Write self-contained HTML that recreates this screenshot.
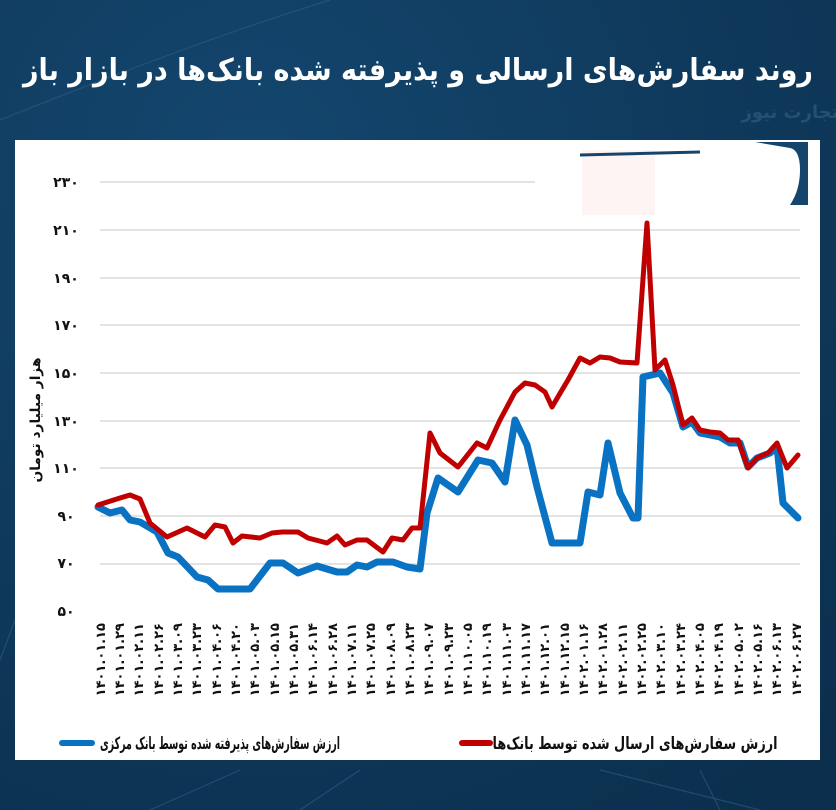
<!DOCTYPE html>
<html><head><meta charset="utf-8"><style>
html,body{margin:0;padding:0;width:836px;height:810px;overflow:hidden;background:#0d3657;}
svg{display:block}
</style></head><body>
<svg width="836" height="810" viewBox="0 0 836 810" xmlns="http://www.w3.org/2000/svg">
<defs>
<radialGradient id="bg" cx="0.3" cy="0.2" r="1"><stop offset="0" stop-color="#14466e"/><stop offset="1" stop-color="#0b2f4d"/></radialGradient>
</defs>
<rect width="836" height="810" fill="url(#bg)"/>
<g stroke="#2f5d82" stroke-width="1.2" fill="none" opacity="0.6">
<path d="M0 120 Q200 40 330 0"/><path d="M150 810 L240 770"/><path d="M360 770 L300 810"/><path d="M600 770 L760 810"/><path d="M700 770 L720 810"/><path d="M0 660 L15 620"/>
</g>
<text x="418" y="80" text-anchor="middle" textLength="790" lengthAdjust="spacingAndGlyphs" font-family="'DejaVu Sans',sans-serif" font-weight="bold" font-size="30" fill="#fff">روند سفارش‌های ارسالی و پذیرفته شده بانک‌ها در بازار باز</text>
<text x="790" y="118" text-anchor="middle" font-family="'DejaVu Sans',sans-serif" font-weight="bold" font-size="18" fill="#2c5b80" opacity="0.7">تجارت نیوز</text>
<rect x="15" y="140" width="805" height="620" fill="#fff"/>
<rect x="582" y="150" width="73" height="65" fill="#fff4f4"/>
<path d="M580 155 L700 152" stroke="#15456b" stroke-width="3"/>
<path d="M755 142 L808 142 L808 205 L790 205 Q800 190 800 170 Q800 150 790 148 Z" fill="#15456b"/>
<g stroke="#e3e3e3" stroke-width="2">
<line x1="100" y1="182" x2="535" y2="182"/>
<line x1="100" y1="230" x2="800" y2="230"/>
<line x1="100" y1="278" x2="800" y2="278"/>
<line x1="100" y1="325" x2="800" y2="325"/>
<line x1="100" y1="373" x2="800" y2="373"/>
<line x1="100" y1="421" x2="800" y2="421"/>
<line x1="100" y1="468" x2="800" y2="468"/>
<line x1="100" y1="516" x2="800" y2="516"/>
<line x1="100" y1="564" x2="800" y2="564"/>
</g>
<g font-family="'DejaVu Sans',sans-serif" font-weight="bold" font-size="14" fill="#111" text-anchor="middle">
<text x="66" y="187">۲۳۰</text><text x="66" y="235">۲۱۰</text><text x="66" y="283">۱۹۰</text><text x="66" y="330">۱۷۰</text><text x="66" y="378">۱۵۰</text><text x="66" y="426">۱۳۰</text><text x="66" y="473">۱۱۰</text><text x="66" y="521">۹۰</text><text x="66" y="568">۷۰</text><text x="66" y="616">۵۰</text>
</g>
<text transform="translate(40,420) rotate(-90)" text-anchor="middle" textLength="125" lengthAdjust="spacingAndGlyphs" font-family="'DejaVu Sans',sans-serif" font-weight="bold" font-size="14" fill="#111">هزار میلیارد تومان</text>
<polyline fill="none" stroke="#0a72c2" stroke-width="7" stroke-linejoin="round" stroke-linecap="round" points="98,507 110,513 122,510 130,520 140,522 157,532 168,553 178,557 197,577 208,580 218,589 250,589 270,563 283,563 298,573 317,566 337,572 347,572 357,565 367,567 377,562 393,562 407,567 420,569 427,513 438,478 458,492 478,460 492,463 505,482 515,420 527,445 537,487 552,543 580,543 588,492 600,495 608,443 620,493 633,518 638,518 643,377 660,373 673,393 683,427 692,422 700,433 710,435 720,437 730,443 740,443 748,467 757,458 770,453 777,447 783,503 798,518"/>
<polyline fill="none" stroke="#c00000" stroke-width="5" stroke-linejoin="round" stroke-linecap="round" points="98,505 120,498 130,495 140,499 150,523 167,537 187,528 205,537 215,525 225,527 233,543 242,536 260,538 272,533 282,532 298,532 308,538 327,543 337,536 345,545 357,540 367,540 383,552 392,538 403,540 412,528 420,528 430,433 440,453 458,467 477,443 487,448 500,420 515,392 525,383 535,385 545,392 552,407 562,390 568,380 580,358 590,363 600,357 610,358 620,362 637,363 647,223 655,370 665,360 673,385 683,425 692,418 700,430 710,432 720,433 728,440 738,440 748,468 757,458 768,453 777,443 787,468 798,455"/>
<line x1="62" y1="743" x2="92" y2="743" stroke="#0a72c2" stroke-width="6" stroke-linecap="round"/>
<text x="220" y="749" text-anchor="middle" textLength="240" lengthAdjust="spacingAndGlyphs" font-family="'DejaVu Sans',sans-serif" font-weight="bold" font-size="17" fill="#111">ارزش سفارش‌های پذیرفته شده توسط بانک مرکزی</text>
<line x1="462" y1="743" x2="490" y2="743" stroke="#c00000" stroke-width="6" stroke-linecap="round"/>
<text x="635" y="749" text-anchor="middle" textLength="285" lengthAdjust="spacingAndGlyphs" font-family="'DejaVu Sans',sans-serif" font-weight="bold" font-size="17" fill="#111">ارزش سفارش‌های ارسال شده توسط بانک‌ها</text>
<g font-family="'DejaVu Sans',sans-serif" font-weight="bold" font-size="13" fill="#111" text-anchor="end">
<text transform="translate(105,623) rotate(-90)">۱۴۰۱.۰۱.۱۵</text>
<text transform="translate(124,623) rotate(-90)">۱۴۰۱.۰۱.۲۹</text>
<text transform="translate(143,623) rotate(-90)">۱۴۰۱.۰۲.۱۱</text>
<text transform="translate(163,623) rotate(-90)">۱۴۰۱.۰۲.۲۶</text>
<text transform="translate(182,623) rotate(-90)">۱۴۰۱.۰۳.۰۹</text>
<text transform="translate(201,623) rotate(-90)">۱۴۰۱.۰۳.۲۳</text>
<text transform="translate(221,623) rotate(-90)">۱۴۰۱.۰۴.۰۶</text>
<text transform="translate(240,623) rotate(-90)">۱۴۰۱.۰۴.۲۰</text>
<text transform="translate(259,623) rotate(-90)">۱۴۰۱.۰۵.۰۳</text>
<text transform="translate(279,623) rotate(-90)">۱۴۰۱.۰۵.۱۵</text>
<text transform="translate(298,623) rotate(-90)">۱۴۰۱.۰۵.۳۱</text>
<text transform="translate(317,623) rotate(-90)">۱۴۰۱.۰۶.۱۴</text>
<text transform="translate(337,623) rotate(-90)">۱۴۰۱.۰۶.۲۸</text>
<text transform="translate(356,623) rotate(-90)">۱۴۰۱.۰۷.۱۱</text>
<text transform="translate(375,623) rotate(-90)">۱۴۰۱.۰۷.۲۵</text>
<text transform="translate(395,623) rotate(-90)">۱۴۰۱.۰۸.۰۹</text>
<text transform="translate(414,623) rotate(-90)">۱۴۰۱.۰۸.۲۳</text>
<text transform="translate(433,623) rotate(-90)">۱۴۰۱.۰۹.۰۷</text>
<text transform="translate(453,623) rotate(-90)">۱۴۰۱.۰۹.۲۳</text>
<text transform="translate(472,623) rotate(-90)">۱۴۰۱.۱۰.۰۵</text>
<text transform="translate(491,623) rotate(-90)">۱۴۰۱.۱۰.۱۹</text>
<text transform="translate(511,623) rotate(-90)">۱۴۰۱.۱۱.۰۳</text>
<text transform="translate(530,623) rotate(-90)">۱۴۰۱.۱۱.۱۷</text>
<text transform="translate(549,623) rotate(-90)">۱۴۰۱.۱۲.۰۱</text>
<text transform="translate(569,623) rotate(-90)">۱۴۰۱.۱۲.۱۵</text>
<text transform="translate(588,623) rotate(-90)">۱۴۰۲.۰۱.۱۶</text>
<text transform="translate(607,623) rotate(-90)">۱۴۰۲.۰۱.۲۸</text>
<text transform="translate(627,623) rotate(-90)">۱۴۰۲.۰۲.۱۱</text>
<text transform="translate(646,623) rotate(-90)">۱۴۰۲.۰۲.۲۵</text>
<text transform="translate(665,623) rotate(-90)">۱۴۰۲.۰۳.۱۰</text>
<text transform="translate(685,623) rotate(-90)">۱۴۰۲.۰۳.۲۴</text>
<text transform="translate(704,623) rotate(-90)">۱۴۰۲.۰۴.۰۵</text>
<text transform="translate(723,623) rotate(-90)">۱۴۰۲.۰۴.۱۹</text>
<text transform="translate(743,623) rotate(-90)">۱۴۰۲.۰۵.۰۲</text>
<text transform="translate(762,623) rotate(-90)">۱۴۰۲.۰۵.۱۶</text>
<text transform="translate(781,623) rotate(-90)">۱۴۰۲.۰۶.۱۳</text>
<text transform="translate(801,623) rotate(-90)">۱۴۰۲.۰۶.۲۷</text>
</g>
</svg>
</body></html>
